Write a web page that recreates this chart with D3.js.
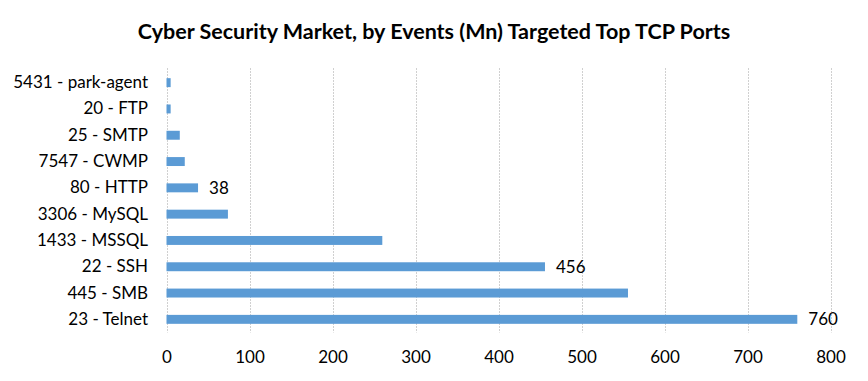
<!DOCTYPE html>
<html><head><meta charset="utf-8">
<script src="https://cdn.jsdelivr.net/npm/d3@7"></script>
<style>body{margin:0;background:#fff;} svg{display:block;}</style>
</head><body>
<svg id="chart" width="868" height="381"></svg>
<script>
const titleText = "Cyber Security Market, by Events (Mn) Targeted Top TCP Ports";
const categories = ["5431 - park-agent","20 - FTP","25 - SMTP","7547 - CWMP","80 - HTTP","3306 - MySQL","1433 - MSSQL","22 - SSH","445 - SMB","23 - Telnet"];
const values = [5, 5, 16, 22, 38, 74, 260, 456, 556, 760];
const dataLabels = [null, null, null, null, "38", null, null, "456", null, "760"];
const xTicks = [0,100,200,300,400,500,600,700,800];

(function(){
const svg = d3.select("#chart");
const font = "Lato, 'Open Sans', sans-serif";
const pLeft = 166.5, pRight = 830.5, pTop = 69.5, pBottom = 332.5;

const x = d3.scaleLinear().domain([0,800]).range([pLeft,pRight]);
const y = d3.scaleBand().domain(categories).range([pTop,pBottom]).paddingInner(0.66).paddingOuter(0.33);

svg.append("text").attr("x",434).attr("y",39).attr("text-anchor","middle")
  .style("font-family",font).style("font-weight","bold").style("font-size","21.5px").attr("fill","#000").text(titleText);

svg.append("g").selectAll("line").data(xTicks).join("line")
  .attr("x1",d=>Math.round(x(d))+0.5).attr("x2",d=>Math.round(x(d))+0.5)
  .attr("y1",pTop-1.5).attr("y2",pBottom)
  .attr("stroke","#d0d0d0").attr("stroke-width",1).attr("stroke-dasharray","2,1");

const xAxis = d3.axisBottom(x).tickValues(xTicks).tickSize(0).tickPadding(0);
const gx = svg.append("g").attr("transform",`translate(0,${pBottom+18})`).call(xAxis);
gx.select(".domain").remove();
gx.selectAll("text").style("font-family",font).style("font-size","17px").attr("fill","#000");

const yAxis = d3.axisLeft(y).tickSize(0).tickPadding(0);
const gy = svg.append("g").attr("transform",`translate(148,0)`).call(yAxis);
gy.select(".domain").remove();
gy.selectAll("text").style("font-family",font).style("font-size","17px").attr("fill","#000");

svg.append("g").selectAll("rect").data(categories).join("rect")
  .attr("x",x(0)).attr("y",d=>y(d)).attr("height",y.bandwidth())
  .attr("width",(d,i)=>x(values[i])-x(0)).attr("fill","#5B9BD5");

svg.append("g").selectAll("text").data(categories.filter((d,i)=>dataLabels[i]!==null)).join("text")
  .attr("x",d=>x(values[categories.indexOf(d)])+11)
  .attr("y",d=>y(d)+y.bandwidth()/2).attr("dy","0.35em")
  .style("font-family",font).style("font-size","17px").attr("fill","#000")
  .text(d=>dataLabels[categories.indexOf(d)]);
})();
</script>
</body></html>
